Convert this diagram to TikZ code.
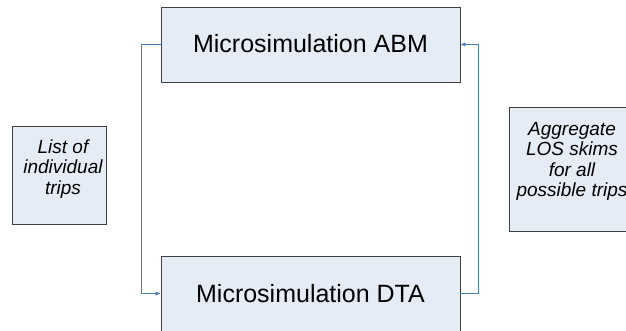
\documentclass[tikz,border=0pt]{standalone}
\usepackage{fontspec}
\setmainfont{Liberation Sans}
\usetikzlibrary{arrows.meta}
\definecolor{boxfill}{HTML}{E6ECF6}
\definecolor{boxline}{HTML}{404040}
\definecolor{linkblue}{HTML}{4A7EBB}
\begin{document}
\begin{tikzpicture}[x=1pt,y=-1pt,
  stage/.style={draw=boxline,fill=boxfill,line width=0.9pt,inner sep=0pt,font=\fontsize{25}{30}\selectfont},
  note/.style={draw=boxline,fill=boxfill,line width=0.9pt,inner sep=0pt},
  notetext/.style={inner sep=0pt,align=center,font=\fontsize{19}{20.5}\selectfont\itshape},
  link/.style={draw=linkblue,line width=0.8pt,-{Latex[length=5pt,width=4.5pt]}}]
\useasboundingbox (0,0) rectangle (626,331);
% the two simulation stages
\node[stage,minimum width=299pt,minimum height=75pt] (abm) at (310.5,44.5) {\raisebox{1.5pt}{Microsimulation ABM}};
\node[stage,minimum width=299pt,minimum height=75pt] (dta) at (310.5,293.5) {\raisebox{-0.5pt}{Microsimulation DTA}};
% side notes
\node[note,minimum width=94pt,minimum height=98pt] (trips) at (59,175) {};
\node[notetext] (tripstext) at (63,168.7) {List of\\individual\\trips};
\node[note,minimum width=126pt,minimum height=124pt] (skims) at (572,169) {};
\node[notetext] (skimstext) at (572,161.2) {Aggregate\\LOS skims\\for all\\possible trips};
% feedback loop
\draw[link] (abm.west) -- ++(-19,0) |- (dta.west);
\draw[link] (dta.east) -- ++(18,0) |- (abm.east);
\end{tikzpicture}
\end{document}
